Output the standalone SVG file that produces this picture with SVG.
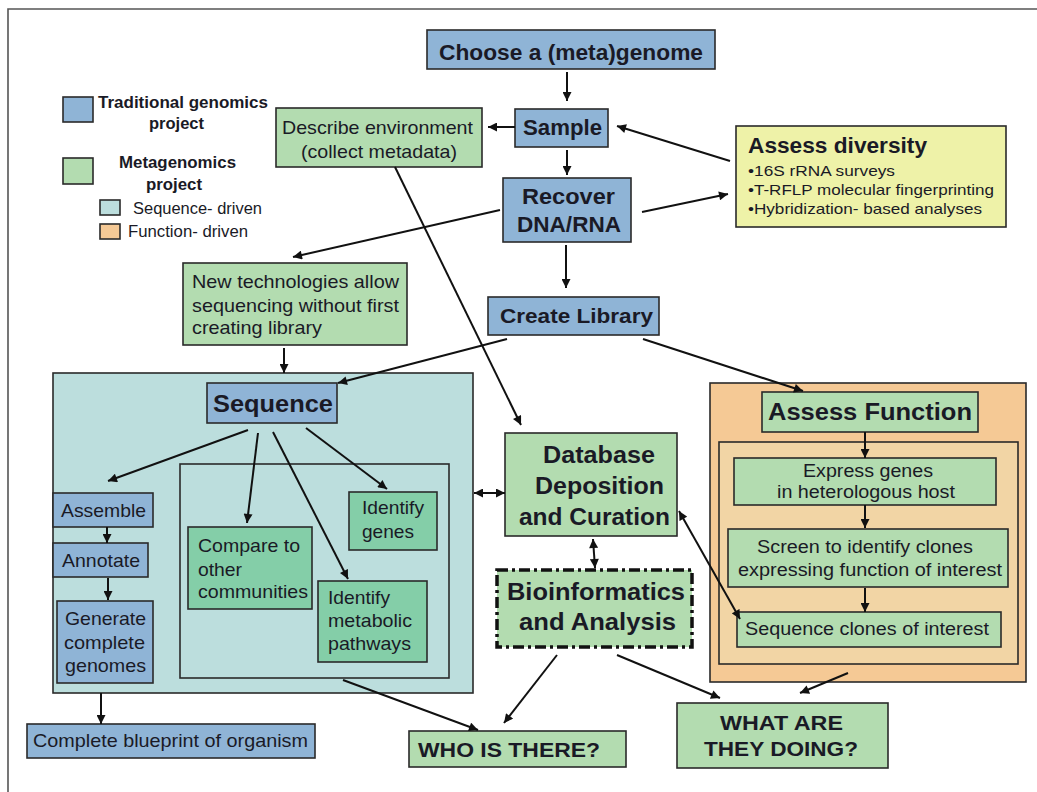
<svg xmlns="http://www.w3.org/2000/svg" width="1037" height="792" viewBox="0 0 1037 792">
  <style>
    text { font-family: "Liberation Sans", Arial, sans-serif; fill: #1a1a26; }
    .b { font-weight: bold; }
    .blue { fill: #8fb4d6; stroke: #2a2a2a; stroke-width: 1.6; }
    .green { fill: #b3dcb0; stroke: #2a2a2a; stroke-width: 1.6; }
    .mint { fill: #84cea8; stroke: #2a2a2a; stroke-width: 1.6; }
    .teal { fill: #bcdedd; stroke: #2a2a2a; stroke-width: 1.6; }
    .orange { fill: #f5c995; stroke: #2a2a2a; stroke-width: 1.6; }
    .peach { fill: #f2d5a5; stroke: #2a2a2a; stroke-width: 1.6; }
    .yellow { fill: #eef2a8; stroke: #2a2a2a; stroke-width: 1.6; }
    .edge { stroke: #111; stroke-width: 2; fill: none; marker-end: url(#ah); }
    .both { marker-start: url(#ah); }
  </style>
  <defs>
    <marker id="ah" viewBox="0 0 10 10" refX="10" refY="5" markerUnits="userSpaceOnUse" markerWidth="10" markerHeight="9" orient="auto-start-reverse">
      <path d="M0,0 L10,5 L0,10 z" fill="#111"/>
    </marker>
  </defs>

  <!-- frame -->
  <path d="M8,792 V9 H1037" fill="none" stroke="#555" stroke-width="1.6"/>

  <!-- legend -->
  <g id="legend">
    <rect class="blue" x="63" y="97" width="30" height="25"/>
    <text class="b" x="98" y="108" font-size="16" textLength="170" lengthAdjust="spacingAndGlyphs">Traditional genomics</text>
    <text class="b" x="149" y="129" font-size="16" textLength="55" lengthAdjust="spacingAndGlyphs">project</text>
    <rect class="green" x="63" y="158" width="30" height="26"/>
    <text class="b" x="119" y="168" font-size="16" textLength="117" lengthAdjust="spacingAndGlyphs">Metagenomics</text>
    <text class="b" x="146" y="190" font-size="16" textLength="56" lengthAdjust="spacingAndGlyphs">project</text>
    <rect class="teal" x="100" y="200" width="20" height="15"/>
    <text x="133" y="214" font-size="16" textLength="129" lengthAdjust="spacingAndGlyphs">Sequence- driven</text>
    <rect class="orange" x="100" y="224" width="20" height="15"/>
    <text x="128" y="237" font-size="16" textLength="120" lengthAdjust="spacingAndGlyphs">Function- driven</text>
  </g>

  <!-- region containers -->
  <g id="seq-region">
    <rect class="teal" x="53" y="373" width="420" height="320"/>
    <rect x="180" y="464" width="269" height="214" fill="none" stroke="#2a2a2a" stroke-width="1.6"/>
  </g>
  <g id="func-region">
    <rect class="orange" x="710" y="383" width="316" height="299"/>
    <rect class="peach" x="719" y="442" width="299" height="222"/>
  </g>

  <!-- nodes -->
  <g id="choose">
    <rect class="blue" x="427" y="30" width="288" height="39"/>
    <text class="b" x="439" y="60" font-size="22" textLength="264" lengthAdjust="spacingAndGlyphs">Choose a (meta)genome</text>
  </g>
  <g id="sample">
    <rect class="blue" x="515" y="109" width="93" height="38"/>
    <text class="b" x="523" y="135" font-size="22" textLength="79" lengthAdjust="spacingAndGlyphs">Sample</text>
  </g>
  <g id="describe">
    <rect class="green" x="276" y="108" width="206" height="59"/>
    <text x="282" y="134" font-size="18.5" textLength="191" lengthAdjust="spacingAndGlyphs">Describe environment</text>
    <text x="301" y="158" font-size="18.5" textLength="156" lengthAdjust="spacingAndGlyphs">(collect metadata)</text>
  </g>
  <g id="recover">
    <rect class="blue" x="503" y="178" width="128" height="64"/>
    <text class="b" x="522" y="204" font-size="22" textLength="93" lengthAdjust="spacingAndGlyphs">Recover</text>
    <text class="b" x="517" y="232" font-size="22" textLength="104" lengthAdjust="spacingAndGlyphs">DNA/RNA</text>
  </g>
  <g id="assess-diversity">
    <rect class="yellow" x="736" y="126" width="270" height="101"/>
    <text class="b" x="748" y="153" font-size="22" textLength="179" lengthAdjust="spacingAndGlyphs">Assess diversity</text>
    <text x="748" y="176" font-size="15" textLength="147" lengthAdjust="spacingAndGlyphs">•16S  rRNA surveys</text>
    <text x="748" y="195" font-size="15" textLength="246" lengthAdjust="spacingAndGlyphs">•T-RFLP molecular fingerprinting</text>
    <text x="748" y="214" font-size="15" textLength="234" lengthAdjust="spacingAndGlyphs">•Hybridization- based analyses</text>
  </g>
  <g id="new-tech">
    <rect class="green" x="183" y="263" width="224" height="82"/>
    <text x="192" y="288" font-size="18.5" textLength="207" lengthAdjust="spacingAndGlyphs">New technologies allow</text>
    <text x="192" y="312" font-size="18.5" textLength="207" lengthAdjust="spacingAndGlyphs">sequencing without first</text>
    <text x="192" y="334" font-size="18.5" textLength="130" lengthAdjust="spacingAndGlyphs">creating library</text>
  </g>
  <g id="create-library">
    <rect class="blue" x="488" y="297" width="171" height="38"/>
    <text class="b" x="500" y="323" font-size="21" textLength="153" lengthAdjust="spacingAndGlyphs">Create Library</text>
  </g>
  <g id="sequence">
    <rect class="blue" x="207" y="383" width="130" height="40"/>
    <text class="b" x="213" y="412" font-size="23" textLength="120" lengthAdjust="spacingAndGlyphs">Sequence</text>
  </g>
  <g id="assemble">
    <rect class="blue" x="53" y="493" width="100" height="34"/>
    <text x="61" y="517" font-size="18.5" textLength="85" lengthAdjust="spacingAndGlyphs">Assemble</text>
  </g>
  <g id="annotate">
    <rect class="blue" x="53" y="543" width="95" height="34"/>
    <text x="62" y="567" font-size="18.5" textLength="78" lengthAdjust="spacingAndGlyphs">Annotate</text>
  </g>
  <g id="generate">
    <rect class="blue" x="57" y="601" width="96" height="82"/>
    <text x="65" y="625" font-size="18.5" textLength="81" lengthAdjust="spacingAndGlyphs">Generate</text>
    <text x="64" y="649" font-size="18.5" textLength="81" lengthAdjust="spacingAndGlyphs">complete</text>
    <text x="65" y="672" font-size="18.5" textLength="81" lengthAdjust="spacingAndGlyphs">genomes</text>
  </g>
  <g id="blueprint">
    <rect class="blue" x="27" y="724" width="288" height="34"/>
    <text x="33" y="747" font-size="18.5" textLength="275" lengthAdjust="spacingAndGlyphs">Complete blueprint of organism</text>
  </g>
  <g id="compare">
    <rect class="mint" x="188" y="527" width="124" height="82"/>
    <text x="198" y="552" font-size="18.5" textLength="102" lengthAdjust="spacingAndGlyphs">Compare to</text>
    <text x="198" y="576" font-size="18.5" textLength="44" lengthAdjust="spacingAndGlyphs">other</text>
    <text x="198" y="598" font-size="18.5" textLength="110" lengthAdjust="spacingAndGlyphs">communities</text>
  </g>
  <g id="identify-genes">
    <rect class="mint" x="349" y="492" width="88" height="58"/>
    <text x="362" y="514" font-size="18.5" textLength="62" lengthAdjust="spacingAndGlyphs">Identify</text>
    <text x="362" y="538" font-size="18.5" textLength="52" lengthAdjust="spacingAndGlyphs">genes</text>
  </g>
  <g id="identify-pathways">
    <rect class="mint" x="318" y="581" width="109" height="81"/>
    <text x="328" y="604" font-size="18.5" textLength="62" lengthAdjust="spacingAndGlyphs">Identify</text>
    <text x="328" y="627" font-size="18.5" textLength="84" lengthAdjust="spacingAndGlyphs">metabolic</text>
    <text x="328" y="650" font-size="18.5" textLength="83" lengthAdjust="spacingAndGlyphs">pathways</text>
  </g>
  <g id="database">
    <rect class="green" x="505" y="433" width="172" height="103"/>
    <text x="543" y="463" font-size="23" font-weight="600" textLength="112" lengthAdjust="spacingAndGlyphs">Database</text>
    <text x="535" y="494" font-size="23" font-weight="600" textLength="129" lengthAdjust="spacingAndGlyphs">Deposition</text>
    <text x="519" y="525" font-size="23" font-weight="600" textLength="151" lengthAdjust="spacingAndGlyphs">and Curation</text>
  </g>
  <g id="bioinformatics">
    <rect x="497" y="570" width="195" height="77" fill="#b3dcb0" stroke="#111" stroke-width="3.5" stroke-dasharray="11,4,3,4"/>
    <text class="b" x="507" y="600" font-size="23" textLength="178" lengthAdjust="spacingAndGlyphs">Bioinformatics</text>
    <text class="b" x="519" y="630" font-size="23" textLength="157" lengthAdjust="spacingAndGlyphs">and Analysis</text>
  </g>
  <g id="assess-function">
    <rect class="green" x="762" y="392" width="216" height="40"/>
    <text class="b" x="768" y="420" font-size="23" textLength="204" lengthAdjust="spacingAndGlyphs">Assess Function</text>
  </g>
  <g id="express">
    <rect class="green" x="734" y="458" width="262" height="47"/>
    <text x="803" y="477" font-size="17.5" textLength="130" lengthAdjust="spacingAndGlyphs">Express genes</text>
    <text x="777" y="498" font-size="17.5" textLength="178" lengthAdjust="spacingAndGlyphs">in heterologous host</text>
  </g>
  <g id="screen">
    <rect class="green" x="728" y="529" width="280" height="58"/>
    <text x="757" y="553" font-size="17.5" textLength="216" lengthAdjust="spacingAndGlyphs">Screen to identify clones</text>
    <text x="738" y="576" font-size="17.5" textLength="264" lengthAdjust="spacingAndGlyphs">expressing function of interest</text>
  </g>
  <g id="seq-clones">
    <rect class="green" x="737" y="612" width="264" height="35"/>
    <text x="745" y="635" font-size="17.5" textLength="244" lengthAdjust="spacingAndGlyphs">Sequence clones of interest</text>
  </g>
  <g id="who">
    <rect class="green" x="409" y="731" width="217" height="36"/>
    <text class="b" x="418" y="757" font-size="20" textLength="182" lengthAdjust="spacingAndGlyphs">WHO IS THERE?</text>
  </g>
  <g id="what">
    <rect class="green" x="677" y="703" width="211" height="65"/>
    <text class="b" x="720" y="730" font-size="20" textLength="123" lengthAdjust="spacingAndGlyphs">WHAT ARE</text>
    <text class="b" x="704" y="756" font-size="20" textLength="154" lengthAdjust="spacingAndGlyphs">THEY DOING?</text>
  </g>

  <!-- connectors -->
  <g id="connectors">
    <path class="edge" d="M567,72 V101"/>
    <path class="edge" d="M515,127 H488"/>
    <path class="edge" d="M567,150 V175"/>
    <path class="edge" d="M730,161 L617,126"/>
    <path class="edge" d="M642,212 L728,194"/>
    <path class="edge" d="M500,210 L293,257"/>
    <path class="edge" d="M395,167 L521,425"/>
    <path class="edge" d="M566,245 V288"/>
    <path class="edge" d="M284,348 V373"/>
    <path class="edge" d="M507,339 L338,383"/>
    <path class="edge" d="M643,339 L803,391"/>
    <path class="edge" d="M248,430 L108,481"/>
    <path class="edge" d="M258,433 L247,523"/>
    <path class="edge" d="M273,432 L348,579"/>
    <path class="edge" d="M306,428 L387,489"/>
    <path class="edge" d="M107,527 V543"/>
    <path class="edge" d="M108,578 V600"/>
    <path class="edge" d="M101,693 V724"/>
    <path class="edge both" d="M474,493 H505"/>
    <path class="edge both" d="M593,539 L595,568"/>
    <path class="edge both" d="M679,511 L740,619"/>
    <path class="edge" d="M865,432 V458"/>
    <path class="edge" d="M865,505 V528"/>
    <path class="edge" d="M865,588 V612"/>
    <path class="edge" d="M343,680 L478,730"/>
    <path class="edge" d="M557,655 L504,723"/>
    <path class="edge" d="M617,655 L720,698"/>
    <path class="edge" d="M848,673 L800,693"/>
  </g>
</svg>
